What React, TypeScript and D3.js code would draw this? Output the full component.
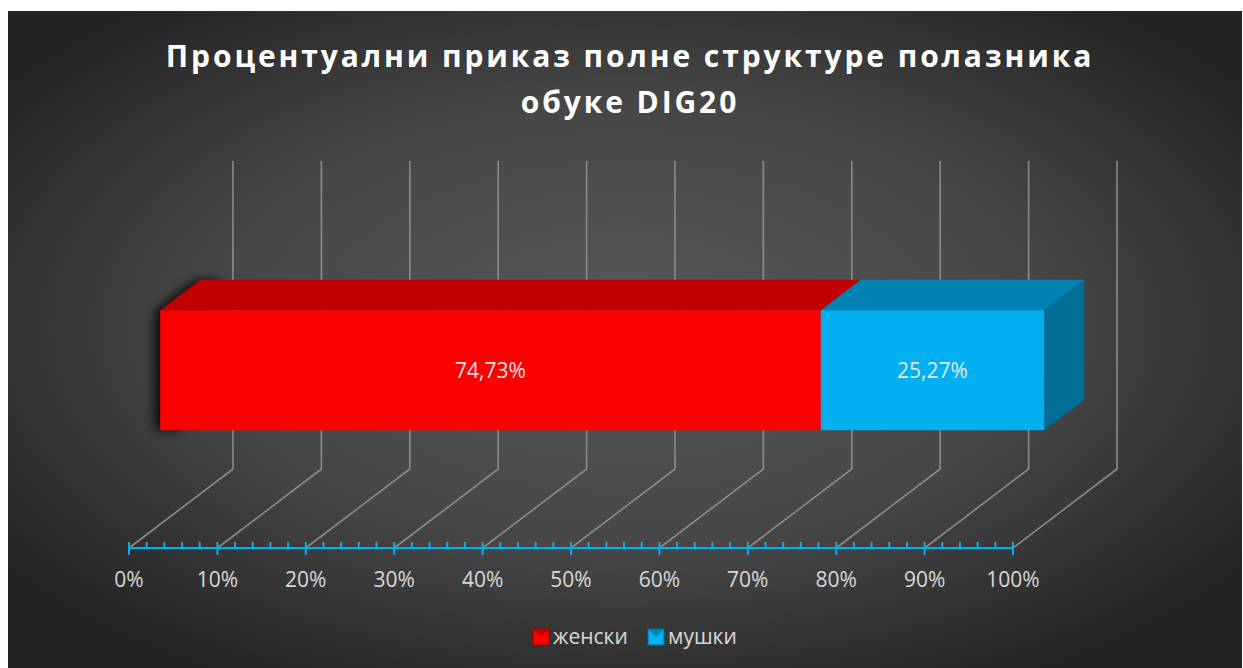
import React from 'react';
import * as d3 from 'd3';

const categories = ['DIG20'];
const seriesNames = ['женски', 'мушки'];
const seriesValues = [74.73, 25.27];
const seriesLabels = ['74,73%', '25,27%'];
const frontColors = ['#ff0000', '#00b0f0'];
const topColors = ['#c00000', '#0083b3'];
const sideColors = ['#a00000', '#006f98'];
const titleLines = ['Процентуални приказ полне структуре полазника', 'обуке DIG20'];

const W = 1243;
const H = 668;
const floorY = 548;
// oblique projection of one unit of depth
const depthDX = 104;
const depthDY = -79;

const App = () => {
  const x = d3.scaleLinear().domain([0, 100]).range([129, 1013]);
  const h = d3.scaleLinear().domain([0, 1]).range([0, 308]);
  const band = d3.scaleBand().domain(categories).range([0, 1]).padding(0.439);
  const barZ0 = 0.3;
  const barZ1 = 0.685;

  const proj = (v: number, hv: number, z: number): [number, number] => [
    x(v) + z * depthDX,
    floorY - h(hv) - z * (-depthDY),
  ];
  const pts = (p: [number, number][]) => p.map((d) => d.join(',')).join(' ');

  const majorTicks = x.ticks(10);
  const minorTicks = d3.range(0, 100.01, 2).filter((t) => t % 10 !== 0);

  // stack the series
  let acc = 0;
  const stacked = seriesValues.map((v, i) => {
    const s = { name: seriesNames[i], v0: acc, v1: acc + v, i };
    acc += v;
    return s;
  });

  const cat = categories[0];
  const b0 = band(cat) as number;
  const b1 = b0 + band.bandwidth();

  const shadow = [
    proj(0, b0, barZ0),
    proj(0, b1, barZ0),
    proj(0, b1, barZ1),
    proj(3, b1, barZ1),
    proj(3, b0, barZ0),
  ].map(([px, py]) => [px - 6, py] as [number, number]);

  return (
    <svg
      width={W}
      height={H}
      style={{ position: 'absolute', left: 0, top: 0 }}
      fontFamily="'Open Sans', sans-serif"
    >
      <defs>
        <radialGradient id="bg" cx="50%" cy="48%" r="62%">
          <stop offset="0%" stopColor="#595959" />
          <stop offset="55%" stopColor="#464646" />
          <stop offset="100%" stopColor="#242424" />
        </radialGradient>
        <filter id="shadow" x="-20%" y="-40%" width="140%" height="180%">
          <feGaussianBlur stdDeviation="5" />
        </filter>
      </defs>
      <rect x={0} y={0} width={W} height={H} fill="#ffffff" />
      <rect x={8} y={11} width={1234} height={H - 11} fill="url(#bg)" />

      {/* back wall gridlines and floor lines */}
      <g stroke="#8a8a8a" strokeWidth={1.6} fill="none">
        {majorTicks.map((t) => (
          <polyline key={t} points={pts([proj(t, 0, 0), proj(t, 0, 1), proj(t, 1, 1)])} />
        ))}
      </g>

      {/* front axis */}
      <g stroke="#00b0f0" strokeWidth={2}>
        <line x1={x(0)} x2={x(100)} y1={floorY} y2={floorY} />
        {majorTicks.map((t) => (
          <line key={t} x1={x(t)} x2={x(t)} y1={floorY - 6} y2={floorY + 7} />
        ))}
        {minorTicks.map((t) => (
          <line key={t} x1={x(t)} x2={x(t)} y1={floorY - 6} y2={floorY} />
        ))}
      </g>
      <g fill="#d9d9d9" fontSize={21} textAnchor="middle">
        {majorTicks.map((t) => (
          <text key={t} x={x(t)} y={587}>
            {t}%
          </text>
        ))}
      </g>

      {/* shadow behind the bar */}
      <polygon points={pts(shadow)} fill="#000" opacity={0.75} filter="url(#shadow)" />

      {/* bar faces */}
      {stacked.map((s) => (
        <g key={s.name}>
          {s.i === stacked.length - 1 && (
            <polygon
              points={pts([
                proj(s.v1, b0, barZ0),
                proj(s.v1, b1, barZ0),
                proj(s.v1, b1, barZ1),
                proj(s.v1, b0, barZ1),
              ])}
              fill={sideColors[s.i]}
            />
          )}
          <polygon
            points={pts([
              proj(s.v0, b1, barZ0),
              proj(s.v0, b1, barZ1),
              proj(s.v1, b1, barZ1),
              proj(s.v1, b1, barZ0),
            ])}
            fill={topColors[s.i]}
          />
          <polygon
            points={pts([
              proj(s.v0, b0, barZ0),
              proj(s.v0, b1, barZ0),
              proj(s.v1, b1, barZ0),
              proj(s.v1, b0, barZ0),
            ])}
            fill={frontColors[s.i]}
          />
        </g>
      ))}
      {stacked.map((s) => {
        const [cx, cy] = proj((s.v0 + s.v1) / 2, (b0 + b1) / 2, barZ0);
        return (
          <text key={s.name} x={cx} y={cy + 8} fill="#e6e6e6" fontSize={21} textAnchor="middle">
            {seriesLabels[s.i]}
          </text>
        );
      })}

      {/* title */}
      <g fill="#ffffff" fontSize={30} fontWeight="bold" textAnchor="middle" letterSpacing={2.9}>
        {titleLines.map((t, i) => (
          <text key={i} x={630} y={67 + i * 46}>
            {t}
          </text>
        ))}
      </g>

      {/* legend */}
      <g fontSize={21} fill="#d9d9d9">
        {seriesNames.map((n, i) => {
          const lx = i === 0 ? 533 : 648;
          return (
            <g key={n} transform={`translate(${lx},629)`}>
              <rect x={0} y={0} width={16} height={16} fill={frontColors[i]} stroke={sideColors[i]} strokeWidth={1} />
              <polygon points="0,0 16,0 8,8" fill={topColors[i]} />
              <text x={20} y={15}>
                {n}
              </text>
            </g>
          );
        })}
      </g>
    </svg>
  );
};

export default App;
